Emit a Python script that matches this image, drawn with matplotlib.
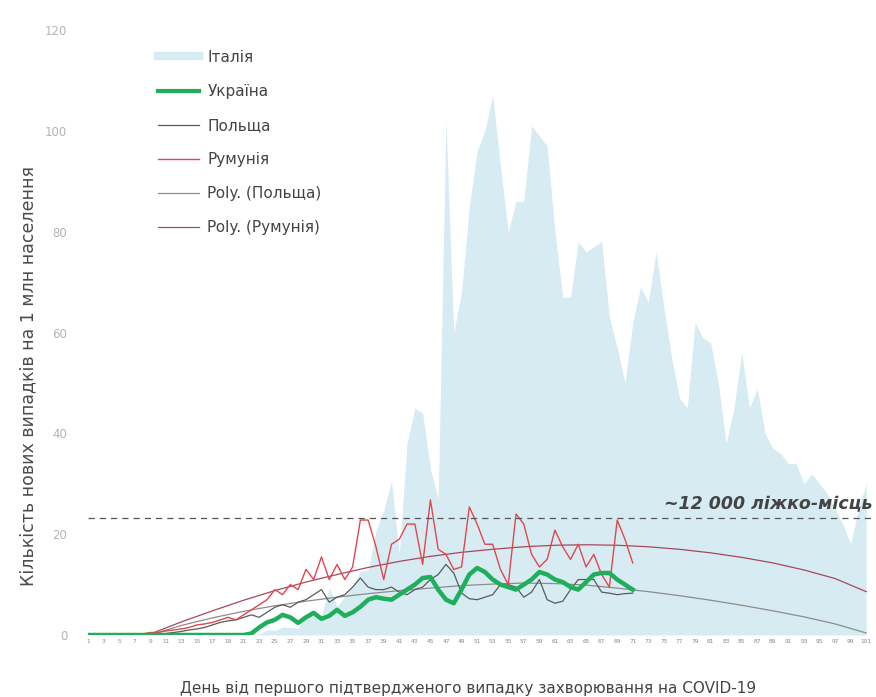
import matplotlib
matplotlib.use("Agg")
import matplotlib.pyplot as plt
from matplotlib.lines import Line2D

plt.rcParams['font.family'] = ['DejaVu Sans']

days = list(range(1, 102))
tick_days = days[::2]
tick_labels = [str(d) for d in tick_days]

italy = [0, 0, 0, 0, 0, 0, 0, 0, 0, 0,
         0, 0, 0, 0, 0, 0, 0, 0, 0, 0,
         0, 0, 0.2, 1.0, 0.9, 1.6, 1.5, 1.3, 4.1, 3.9,
         4.0, 9.4, 5.7, 7.7, 9.7, 12.7, 12.9, 20.6, 24.7, 30.5,
         16, 38, 45, 44, 33, 27, 102, 60, 68, 85,
         96, 100, 107, 93, 80, 86, 86, 101, 99, 97,
         80, 67, 67, 78, 76, 77, 78, 63, 57, 50,
         62, 69, 66, 76, 65, 55, 47, 45, 62, 59,
         58, 50, 38, 45, 56, 45, 49, 40, 37, 36,
         34, 34, 30, 32, 30, 28, 25, 22, 18, 25, 30]

ukraine = [0] * 20 + [0, 0.3, 1.5, 2.5, 3, 4, 3.5, 2.4, 3.5, 4.4,
                      3.2, 3.8, 5, 3.8, 4.5, 5.6, 7, 7.5, 7.2, 7,
                      8, 9, 10, 11.3, 11.5, 9, 7, 6.3, 9, 12,
                      13.3, 12.5, 11, 10, 9.5, 9, 10, 11, 12.5, 12,
                      11, 10.5, 9.5, 9, 10.5, 12, 12.3, 12.3, 11, 10, 9]

poland = [0] * 10 + [0.3, 0.5, 0.7, 1, 1.2, 1.5, 2, 2.5, 2.8, 3,
                     3.5, 4, 3.5, 4.5, 5.5, 6, 5.5, 6.5, 7, 8,
                     9, 6.5, 7.5, 8, 9.5, 11.3, 9.5, 9, 9, 9.5,
                     8.5, 8, 9, 9.5, 11, 12, 14, 12.3, 8.3, 7.2,
                     7, 7.5, 8, 10, 10, 9.5, 7.5, 8.5, 11, 7,
                     6.3, 6.7, 9, 11, 11, 11, 8.5, 8.3, 8, 8.2, 8.3]

romania = [0] * 7 + [0.2, 0.5, 0.5,
                     0.8, 1, 1.2, 1.5, 2, 2.2, 2.5, 3, 3.5, 3,
                     4, 5, 6, 7, 9, 8, 10, 9, 13, 11,
                     15.5, 11, 14, 11, 13.5, 22.8, 22.8, 17.5, 11, 18,
                     19, 22, 22, 14, 26.8, 17, 16, 13, 13.5, 25.4,
                     22, 18, 18, 13, 10, 24, 22, 16, 13.5, 15,
                     20.8, 17.5, 15, 18, 13.5, 16, 12, 9.5, 22.8, 19, 14.3]

trend_days = [9, 13, 17, 21, 25, 29, 33, 37, 41, 45, 49, 53, 57, 61, 65, 69,
              73, 77, 81, 85, 89, 93, 97, 101]
poly_poland = [0.0, 1.9, 3.4, 4.7, 5.8, 6.7, 7.5, 8.2, 8.8, 9.3, 9.8, 10.1,
               10.3, 10.2, 9.9, 9.3, 8.6, 7.8, 6.9, 5.9, 4.8, 3.6, 2.2, 0.4]
poly_romania = [0.2, 2.6, 4.8, 6.9, 8.8, 10.5, 12.0, 13.4, 14.6, 15.6, 16.4,
                17.0, 17.5, 17.8, 17.9, 17.8, 17.5, 17.0, 16.3, 15.4, 14.3,
                12.9, 11.2, 8.6]

beds_level = 23.2
beds_label = "~12 000 ліжко-місць"

labels = ["Італія", "Україна", "Польща", "Румунія", "Poly. (Польща)", "Poly. (Румунія)"]

c_italy = "#d7ecf2"
c_ukr = "#1fae5b"
c_pol = "#5a5a5a"
c_rom = "#e2464d"
c_ppol = "#8c8c8c"
c_prom = "#a8485a"

fig = plt.figure(figsize=(8.76, 6.97), dpi=100)
ax = fig.add_axes([88 / 876, 62 / 697, 786 / 876, 605 / 697])

ax.fill_between(days, italy, 0, color=c_italy, lw=0, zorder=1)
ax.plot(trend_days, poly_poland, color=c_ppol, lw=0.9, zorder=2)
ax.plot(trend_days, poly_romania, color=c_prom, lw=0.9, zorder=2)
ax.plot(days[:len(poland)], poland, color=c_pol, lw=0.9, zorder=3)
ax.plot(days[:len(romania)], romania, color=c_rom, lw=1.0, zorder=4)
ax.plot(days[:len(ukraine)], ukraine, color=c_ukr, lw=3.2, zorder=5,
        solid_joinstyle='round')

ax.axhline(beds_level, color="#555555", lw=0.9, ls=(0, (5, 4)), zorder=6)

ax.set_xlim(1, 102)
ax.set_ylim(0, 120)
ax.set_yticks([0, 20, 40, 60, 80, 100, 120])
ax.set_xticks(tick_days)
ax.set_xticklabels(tick_labels)
for s in ax.spines.values():
    s.set_visible(False)
ax.tick_params(axis='y', length=0, pad=15, labelsize=8.5, labelcolor="#b4b4b4")
ax.tick_params(axis='x', length=0, pad=3, labelsize=4.2, labelcolor="#8a8a8a")

fig.text(28 / 876, 1 - 376 / 697, "Кількість нових випадків на 1 млн населення",
         fontsize=12.5, color="#4a4a4a", rotation=90, ha="center", va="center")
fig.text(468 / 876, 1 - 688 / 697,
         "День від першого підтвердженого випадку захворювання на COVID-19",
         fontsize=11, color="#444444", ha="center", va="center")

handles = [Line2D([], [], color=c_italy, lw=6),
           Line2D([], [], color=c_ukr, lw=3),
           Line2D([], [], color=c_pol, lw=0.9),
           Line2D([], [], color=c_rom, lw=1.0),
           Line2D([], [], color=c_ppol, lw=0.9),
           Line2D([], [], color=c_prom, lw=0.9)]
leg = ax.legend(handles, labels, loc="upper left", bbox_to_anchor=(0.071, 0.99),
                frameon=False, fontsize=11, handlelength=2.7, labelspacing=1.25,
                handletextpad=0.55)
for t in leg.get_texts():
    t.set_color("#444444")

fig.text(873 / 876, 1 - 504 / 697, beds_label, fontsize=12.5, fontweight="bold",
         fontstyle="italic", color="#444444", ha="right", va="center")

fig.savefig("out.png", dpi=100)
